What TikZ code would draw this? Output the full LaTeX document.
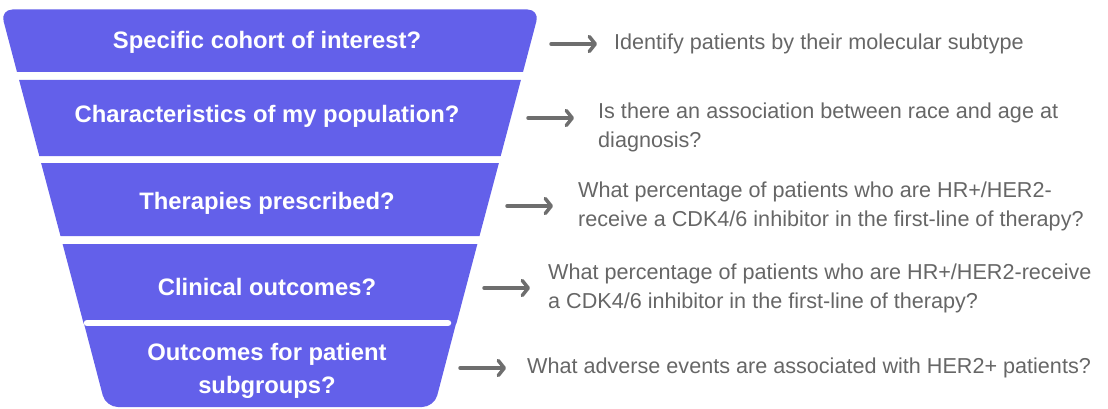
\documentclass[tikz,border=0pt]{standalone}
\usepackage{fontspec}
\setmainfont{Liberation Sans}
\usepackage{tikz}
\usetikzlibrary{arrows.meta, positioning}
\definecolor{funnel}{RGB}{99, 96, 234}
\definecolor{greytext}{RGB}{102, 102, 102}
\definecolor{arrowgrey}{RGB}{110, 110, 110}

\begin{document}
\begin{tikzpicture}[
    x=1pt, y=-1pt,
    band/.style={fill=funnel},
    stage/.style={text=white, font=\fontsize{23.8}{33}\selectfont\bfseries,
                  align=center, inner sep=0pt},
    answer/.style={text=greytext, font=\fontsize{21.6}{29}\selectfont,
                   align=left, inner sep=0pt},
    arrow/.style={-{Straight Barb[length=6pt, width=15pt, round]},
                  line width=3.5pt, line cap=round, arrowgrey}
]
\useasboundingbox (0,0) rectangle (1108,409);

% Funnel
\fill[band] (17,72) [rounded corners=12pt] -- (0.5,9.5) -- (539.5,9.5) [sharp corners] -- (523,72) -- cycle;
\fill[band] (19.1,80) -- (520.9,80) -- (500.7,156) -- (39.3,156) -- cycle;
\fill[band] (41.1,163) -- (498.9,163) -- (479.5,236) -- (60.5,236) -- cycle;
\fill[band] (62.6,244) -- (477.4,244) -- (456.4,323.5) -- (83.6,323.5) -- cycle;
\fill[band] (83.7,322.5) -- (456.3,322.5) [rounded corners=12pt] -- (434.2,407) -- (105.8,407) [sharp corners] -- cycle;
\draw[white, line width=6.5pt, line cap=round] (87,323) -- (448,323);

% Stages
\node[stage] (s1) at (267,42) {Specific cohort of interest?};
\node[stage] (s2) at (267,116) {Characteristics of my population?};
\node[stage] (s3) at (267,203) {Therapies prescribed?};
\node[stage] (s4) at (267,287) {Clinical outcomes?};
\node[stage] (s5) at (267,371) {Outcomes for patient\\subgroups?};

% Arrows
\coordinate (a1) at (551,44);
\coordinate (a2) at (528,118);
\coordinate (a3) at (507,206);
\coordinate (a4) at (484,288);
\coordinate (a5) at (460,368);
\coordinate[right=46pt of a1] (b1);
\coordinate[right=46pt of a2] (b2);
\coordinate[right=46pt of a3] (b3);
\coordinate[right=46pt of a4] (b4);
\coordinate[right=46pt of a5] (b5);
\draw[arrow] (a1) -- (b1);
\draw[arrow] (a2) -- (b2);
\draw[arrow] (a3) -- (b3);
\draw[arrow] (a4) -- (b4);
\draw[arrow] (a5) -- (b5);

% Answers
\node[answer, right=17pt of b1] (t1) {Identify patients by their molecular subtype};
\node[answer, right=24pt of b2, yshift=-9.5pt] (t2) {Is there an association between race and age at\\diagnosis?};
\node[answer, right=25pt of b3] (t3) {What percentage of patients who are HR+/HER2-\\receive a CDK4/6 inhibitor in the first-line of therapy?};
\node[answer, right=18pt of b4] (t4) {What percentage of patients who are HR+/HER2-receive\\a CDK4/6 inhibitor in the first-line of therapy?};
\node[answer, right=21pt of b5] (t5) {What adverse events are associated with HER2+ patients?};

\end{tikzpicture}
\end{document}
